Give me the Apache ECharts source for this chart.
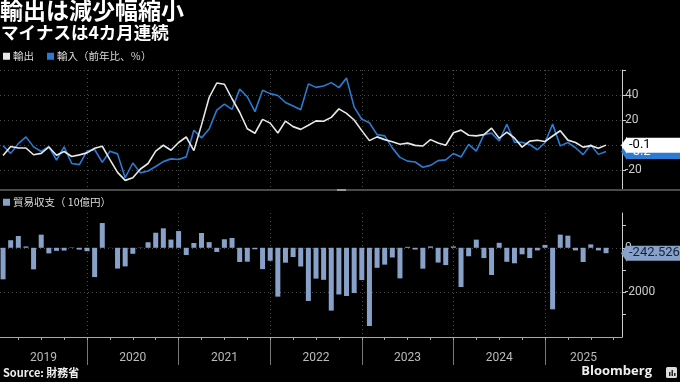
<!DOCTYPE html>
<html>
<head>
<meta charset="utf-8">
<script src="https://cdn.jsdelivr.net/npm/echarts@6/dist/echarts.min.js"></script>
<style>
html,body{margin:0;padding:0;background:#000;}
#chart{width:680px;height:382px;}
</style>
</head>
<body>
<div id="chart"></div>
<script>
// Monthly data Jan 2019 - Aug 2025
const exportsYoY = [
  -8.4,-1.2,-2.4,-2.4,-7.8,-6.7,-1.6,-8.2,-5.2,-9.2,-7.9,-6.3,
  -2.6,-1.0,-11.7,-21.9,-28.3,-26.2,-19.2,-14.8,-4.9,-0.2,-4.2,2.0,
  6.4,-4.5,16.1,38.0,49.6,48.6,37.0,26.2,13.0,9.4,20.5,17.5,
  9.6,19.1,14.7,12.5,15.8,19.3,19.0,22.1,28.9,25.3,20.0,11.5,
  3.5,6.5,4.3,2.6,0.6,1.5,-0.3,-0.8,4.3,1.6,-0.2,9.8,
  11.9,7.8,7.3,8.3,13.5,5.4,10.3,5.6,-1.7,3.1,3.8,2.8,
  7.2,11.4,3.9,2.0,-1.7,-0.5,-2.6,-0.1
];
const importsYoY = [
  -0.6,-6.7,1.1,6.5,-1.5,-5.2,-1.2,-12.0,-1.5,-14.8,-15.7,-4.9,
  -3.6,-13.9,-5.0,-7.1,-26.2,-14.4,-22.3,-20.8,-17.2,-13.3,-11.1,-11.6,
  -9.5,11.8,5.7,12.8,27.9,32.7,28.5,44.7,38.6,26.7,43.8,41.1,
  39.6,34.0,31.2,28.2,48.9,46.1,47.2,49.9,45.9,53.5,30.3,20.6,
  17.8,8.3,7.3,-2.3,-9.9,-12.9,-13.6,-17.8,-16.3,-12.5,-11.9,-6.8,
  -9.6,0.5,-4.9,8.3,9.5,3.2,16.6,2.3,2.1,0.4,-3.8,1.8,
  16.7,-0.7,2.0,-2.2,-7.7,0.2,-7.5,-5.2
];
const tradeBalance = [
  -1415,339,528,60,-967,589,-250,-136,-124,17,-82,-153,
  -1313,1110,5,-931,-834,-269,11,248,675,873,367,751,
  -325,215,663,255,-187,383,441,-637,-623,-67,-958,-582,
  -2191,-668,-412,-839,-2384,-1383,-1436,-2817,-2094,-2163,-2027,-1448,
  -3506,-898,-755,-434,-1372,43,-78,-936,62,-662,-776,62,
  -1760,-379,366,-462,-1221,224,-628,-695,-294,-461,-117,130,
  -2759,590,544,-116,-638,153,-118,-242.526
];
const yearLabels = ['2019','2020','2021','2022','2023','2024','2025'];
const topTicks = [-20, 0, 20, 40, 60];
const topLabels = [-20, 0, 20, 40];
const bottomTicks = [-3000, -2000, -1000, 0, 1000];
const bottomLabels = [-2000, 0];

// x axis in months since Jan 1 2019; each monthly value plotted at its month end
const X_MIN = 0.6, X_MAX = 82.09;
const yearBounds = [12, 24, 36, 48, 60, 72];
const quarterTicks = [];
for (let q = 3; q <= 81; q += 3) quarterTicks.push(q);
const yearCenters = yearLabels.map((_, k) => (Math.max(k * 12, X_MIN) + Math.min((k + 1) * 12, X_MAX)) / 2);

const toXY = arr => arr.map((v, i) => [i + 1, v]);
const last = arr => arr[arr.length - 1];

const WHITE = '#e8e8e8', BLUE = '#2b7bd2', BAR = '#87a1c9';
const GRID_LINE = {show: true, lineStyle: {color: '#4a4a4a', type: [1, 3], width: 1}};
const FONT = "'Roboto','Noto Sans CJK JP',sans-serif";
const CJK = "'Noto Sans CJK JP','Noto Sans',sans-serif";

function tag(value, bg, fg, z) {
  return {
    silent: true, symbol: 'none', z: z,
    lineStyle: {color: 'rgba(0,0,0,0)', width: 0.01},
    label: {show: true, position: 'end', distance: 4, formatter: () => String(value),
      backgroundColor: bg, color: fg, fontSize: 13, fontFamily: FONT,
      padding: [1, 3, 1, 3], width: 48, align: 'left'},
    emphasis: {disabled: true},
    data: [{yAxis: value}]
  };
}

const chart = echarts.init(document.getElementById('chart'), null, {renderer: 'canvas'});
chart.setOption({
  backgroundColor: '#000',
  animation: false,
  title: [
    {text: '輸出は減少幅縮小', left: 0, top: -1, padding: 0,
     textStyle: {color: '#fff', fontSize: 23, fontWeight: 'bold', fontFamily: CJK}},
    {text: 'マイナスは4カ月連続', left: 1, top: 24, padding: 0,
     textStyle: {color: '#fff', fontSize: 17.5, fontWeight: 'bold', fontFamily: CJK}},
    {text: 'Source: 財務省', left: 3, top: 367, padding: 0,
     textStyle: {color: '#eee', fontSize: 11, fontWeight: 'bold', fontFamily: CJK}},
    {text: 'Bloomberg', right: 28, top: 365, padding: 0,
     textStyle: {color: '#eee', fontSize: 13, fontWeight: 'bold', fontFamily: "'Open Sans',sans-serif"}}
  ],
  legend: [
    {data: ['輸出', '輸入'], left: 3, top: 51, padding: 0, icon: 'rect', itemWidth: 7, itemHeight: 7, itemGap: 13,
     formatter: n => n === '輸入' ? '輸入（前年比、％）' : n,
     textStyle: {color: '#ddd', fontSize: 10.5, fontFamily: CJK, padding: [0, 0, 0, -2]}},
    {data: ['貿易収支'], left: 3, top: 197, padding: 0, icon: 'rect', itemWidth: 7, itemHeight: 7,
     formatter: () => '貿易収支（ 10億円）',
     textStyle: {color: '#ddd', fontSize: 10.5, fontFamily: CJK, padding: [0, 0, 0, -2]}}
  ],
  grid: [
    {left: 0, right: 58, top: 70, height: 120},
    {left: 0, right: 58, top: 213, height: 124}
  ],
  xAxis: [
    {type: 'value', gridIndex: 0, min: X_MIN, max: X_MAX,
     axisLine: {show: false, onZero: false},
     axisTick: {show: false, customValues: yearBounds},
     axisLabel: {show: false}, splitLine: GRID_LINE},
    {type: 'value', gridIndex: 1, min: X_MIN, max: X_MAX, position: 'bottom',
     axisLine: {show: true, onZero: false, lineStyle: {color: '#aaa', width: 1}},
     axisTick: {show: true, customValues: yearBounds, length: 28, lineStyle: {color: '#777'}},
     axisLabel: {show: false}, splitLine: GRID_LINE},
    {type: 'value', gridIndex: 1, min: X_MIN, max: X_MAX, position: 'bottom',
     axisLine: {show: false, onZero: false},
     axisTick: {show: true, customValues: quarterTicks, length: 3, lineStyle: {color: '#aaa'}},
     axisLabel: {show: true, customValues: yearCenters, margin: 15, color: '#bbb', fontSize: 12, fontFamily: FONT,
       formatter: v => yearLabels[Math.floor(v / 12)]},
     splitLine: {show: false}}
  ],
  yAxis: [
    {type: 'value', gridIndex: 0, position: 'right', min: -36, max: 60,
     axisLine: {show: true, onZero: false, lineStyle: {color: '#ccc'}},
     axisTick: {show: true, customValues: topTicks, length: 4, lineStyle: {color: '#ccc'}},
     axisLabel: {show: true, customValues: topLabels, margin: 3, color: '#ccc', fontSize: 12, fontFamily: FONT,
       formatter: v => String(v)},
     splitLine: GRID_LINE},
    {type: 'value', gridIndex: 1, position: 'right', min: -4000, max: 1560,
     axisLine: {show: true, onZero: false, lineStyle: {color: '#ccc'}},
     axisTick: {show: true, customValues: bottomTicks, length: 4, lineStyle: {color: '#ccc'}},
     axisLabel: {show: true, customValues: bottomLabels, margin: 3, color: '#ccc', fontSize: 12, fontFamily: FONT,
       formatter: v => String(v)},
     splitLine: {show: false}},
    {type: 'value', gridIndex: 1, position: 'right', min: -4000, max: 1560,
     axisLine: {show: false, onZero: false},
     axisTick: {show: false, customValues: bottomLabels},
     axisLabel: {show: false},
     splitLine: GRID_LINE}
  ],
  series: [
    {name: '輸入', type: 'line', xAxisIndex: 0, yAxisIndex: 0, data: toXY(importsYoY),
     showSymbol: false, z: 2, color: BLUE, lineStyle: {color: BLUE, width: 1.6},
     markLine: tag(last(importsYoY), BLUE, '#fff', 5)},
    {name: '輸出', type: 'line', xAxisIndex: 0, yAxisIndex: 0, data: toXY(exportsYoY),
     showSymbol: false, z: 3, color: WHITE, lineStyle: {color: WHITE, width: 1.6},
     markLine: tag(last(exportsYoY), '#fff', '#000', 6)},
    {name: '貿易収支', type: 'bar', xAxisIndex: 1, yAxisIndex: 1, data: toXY(tradeBalance),
     barWidth: 5, color: BAR, itemStyle: {color: BAR},
     markLine: tag(last(tradeBalance), BAR, '#14223a', 6)}
  ],
  graphic: [
    {id: 'sep', type: 'rect', left: 0, top: 189, z: 10, shape: {width: 680, height: 2}, style: {fill: '#4a4a4a'}},
    {id: 'handle', type: 'rect', left: 337, top: 189, z: 11, shape: {width: 9, height: 2}, style: {fill: '#999'}},
    {id: 'logo', type: 'rect', left: 666, top: 367, z: 10, shape: {width: 11, height: 11, r: 1.5}, style: {fill: '#ddd'}},
    {id: 'logo1', type: 'rect', left: 669, top: 372, z: 11, shape: {width: 1.5, height: 4}, style: {fill: '#222'}},
    {id: 'logo2', type: 'rect', left: 671.5, top: 370, z: 11, shape: {width: 1.5, height: 6}, style: {fill: '#222'}},
    {id: 'logo3', type: 'rect', left: 674, top: 373, z: 11, shape: {width: 1.5, height: 3}, style: {fill: '#222'}}
  ]
});

// Arrow points of the value tags, positioned through the axes' own scales
const tagArrows = [
  {id: 'arrowImp', y: chart.convertToPixel({yAxisIndex: 0}, last(importsYoY)), fill: BLUE, z: 50},
  {id: 'arrowExp', y: chart.convertToPixel({yAxisIndex: 0}, last(exportsYoY)), fill: '#fff', z: 52},
  {id: 'arrowTb', y: chart.convertToPixel({yAxisIndex: 1}, last(tradeBalance)), fill: BAR, z: 50}
];
chart.setOption({
  graphic: tagArrows.map(a => ({
    id: a.id, type: 'polygon', z: a.z, silent: true,
    shape: {points: [[621, a.y], [627, a.y - 8.5], [627, a.y + 8.5]]},
    style: {fill: a.fill}
  }))
});
</script>
</body>
</html>
